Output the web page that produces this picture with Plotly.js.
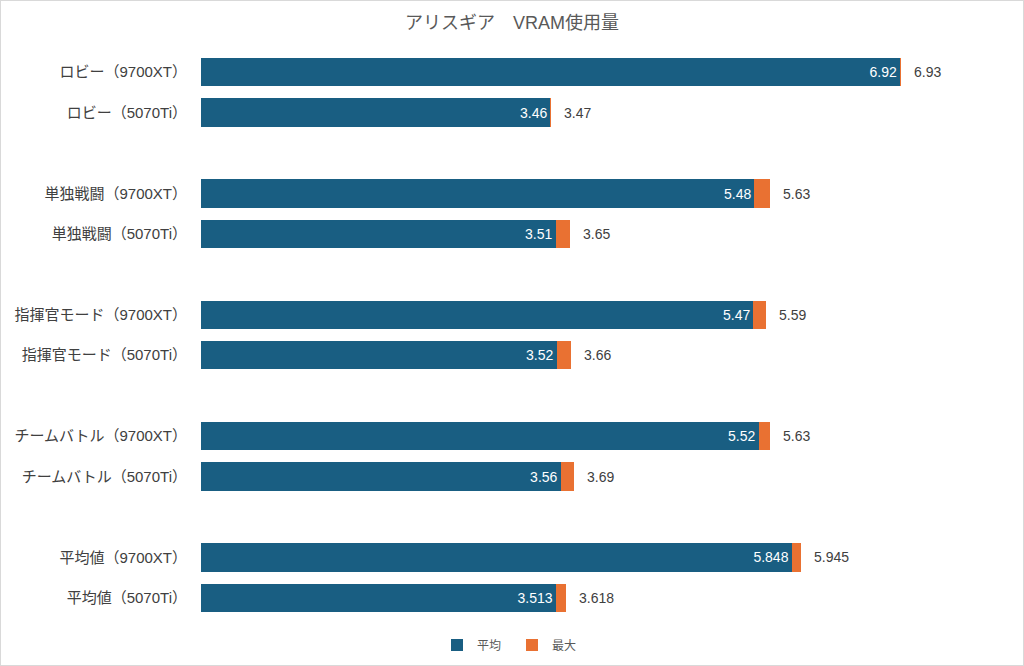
<!DOCTYPE html>
<html>
<head>
<meta charset="utf-8">
<script src="https://cdn.plot.ly/plotly-3.0.1.min.js"></script>
<style>
  html, body { margin: 0; padding: 0; background: #fff; }
  #chart { width: 1024px; height: 666px; box-sizing: border-box; border: 1px solid #d9d9d9; }
</style>
</head>
<body>
<div id="chart"></div>
<script>
// データ
const scenes = ['ロビー', '単独戦闘', '指揮官モード', 'チームバトル', '平均値'];
const gpus = ['9700XT', '5070Ti'];
const avgVals = [6.92, 3.46, 5.48, 3.51, 5.47, 3.52, 5.52, 3.56, 5.848, 3.513];
const maxVals = [6.93, 3.47, 5.63, 3.65, 5.59, 3.66, 5.63, 3.69, 5.945, 3.618];

// カテゴリ名とy位置（グループ間に空きを1つ入れる）
const labels = [];
const ypos = [];
scenes.forEach((s, g) => {
  gpus.forEach((gpu, j) => {
    labels.push(s + '（' + gpu + '）');
    ypos.push(g * 3 + j);
  });
});
const extra = maxVals.map((m, i) => +(m - avgVals[i]).toFixed(3));

const fontFam = '"Liberation Sans", "Noto Sans CJK JP", sans-serif';
const gray = '#404040';

const trAvg = {
  type: 'bar', orientation: 'h', name: '平均',
  x: avgVals, y: ypos, width: 0.7,
  marker: { color: '#195e82' },
  text: avgVals.map(String), textposition: 'inside', insidetextanchor: 'end',
  textfont: { color: '#ffffff', size: 14, family: fontFam },
  constraintext: 'none',
  hoverinfo: 'x+y'
};
const trMax = {
  type: 'bar', orientation: 'h', name: '最大',
  x: extra, y: ypos, width: 0.7,
  marker: { color: '#e97132' },
  textposition: 'none',
  hoverinfo: 'x+y'
};

// 最大値ラベル
const annotations = maxVals.map((m, i) => ({
  x: m, y: ypos[i], xref: 'x', yref: 'y',
  text: String(m), showarrow: false, xanchor: 'left', xshift: 11,
  font: { size: 14, color: gray, family: fontFam }
}));

const layout = {
  width: 1022, height: 664,
  margin: { l: 200, r: 14, t: 51, b: 47 },
  paper_bgcolor: '#ffffff', plot_bgcolor: '#ffffff',
  font: { family: fontFam, color: gray },
  title: { text: 'アリスギア　VRAM使用量', x: 0.5, xanchor: 'center', y: 0.968, yanchor: 'middle',
           font: { size: 18, color: '#595959', family: fontFam } },
  barmode: 'stack',
  showlegend: true,
  legend: { orientation: 'h', traceorder: 'normal', xref: 'container', x: 0.5, xanchor: 'center',
            yref: 'container', y: 0.03, yanchor: 'middle',
            entrywidth: 30, entrywidthmode: 'pixels',
            font: { size: 12, color: '#595959', family: fontFam }, itemwidth: 30 },
  xaxis: { range: [0, 8], showgrid: false, zeroline: false, showticklabels: false, ticks: '', showline: false },
  yaxis: { range: [13.5, -0.5], tickvals: ypos, ticktext: labels, showgrid: false, zeroline: false,
           showline: false, ticks: 'outside', ticklen: 10, tickcolor: 'rgba(0,0,0,0)',
           tickfont: { size: 15, color: gray, family: fontFam } },
  annotations: annotations
};

Plotly.newPlot('chart', [trAvg, trMax], layout, { displayModeBar: false, staticPlot: true });
</script>
</body>
</html>
